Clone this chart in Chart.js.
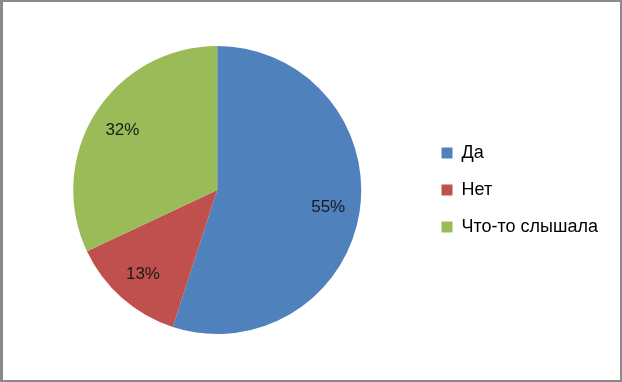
<!DOCTYPE html>
<html><head><meta charset="utf-8">
<script src="https://cdn.jsdelivr.net/npm/chart.js@4/dist/chart.umd.min.js"></script>
<style>
html,body{margin:0;padding:0;background:#fff;}
#wrap{position:relative;width:622px;height:382px;}
#frame{position:absolute;left:0;top:0;width:622px;height:382px;box-sizing:border-box;border:2px solid #8a8a8a;border-left-width:3px;pointer-events:none;}
canvas{position:absolute;left:0;top:0;}
</style></head><body>
<div id="wrap"><canvas id="c" width="622" height="382"></canvas><div id="frame"></div></div>
<script>
const categories = ["Да", "Нет", "Что-то слышала"];
const values = [55, 13, 32];
const colors = ["#4F81BD", "#C0504D", "#9BBB59"];

const labelPlugin = {
  id: 'pctLabels',
  afterDatasetsDraw(chart) {
    const ctx = chart.ctx;
    const meta = chart.getDatasetMeta(0);
    const total = values.reduce((a, b) => a + b, 0);
    ctx.save();
    ctx.font = '17px "Liberation Sans", Arial, sans-serif';
    ctx.fillStyle = '#1a1a1a';
    ctx.textAlign = 'center';
    ctx.textBaseline = 'middle';
    meta.data.forEach((arc, i) => {
      const p = arc.getProps(['x', 'y', 'startAngle', 'endAngle', 'outerRadius'], true);
      const mid = (p.startAngle + p.endAngle) / 2;
      const r = p.outerRadius * 0.78;
      ctx.fillText(Math.round(values[i] / total * 100) + '%', p.x + Math.cos(mid) * r, p.y + Math.sin(mid) * r);
    });
    ctx.restore();
  }
};

new Chart(document.getElementById('c'), {
  type: 'pie',
  data: {
    labels: categories,
    datasets: [{ data: values, backgroundColor: colors, borderWidth: 0 }]
  },
  options: {
    responsive: false,
    animation: false,
    layout: { padding: { left: 12, top: 46, bottom: 48, right: 14 } },
    plugins: {
      tooltip: { enabled: false },
      legend: {
        position: 'right',
        labels: {
          boxWidth: 11, boxHeight: 11, padding: 19,
          color: '#000',
          font: { size: 18, family: '"Liberation Sans", Arial, sans-serif' }
        }
      }
    }
  },
  plugins: [labelPlugin]
});
</script>
</body></html>
